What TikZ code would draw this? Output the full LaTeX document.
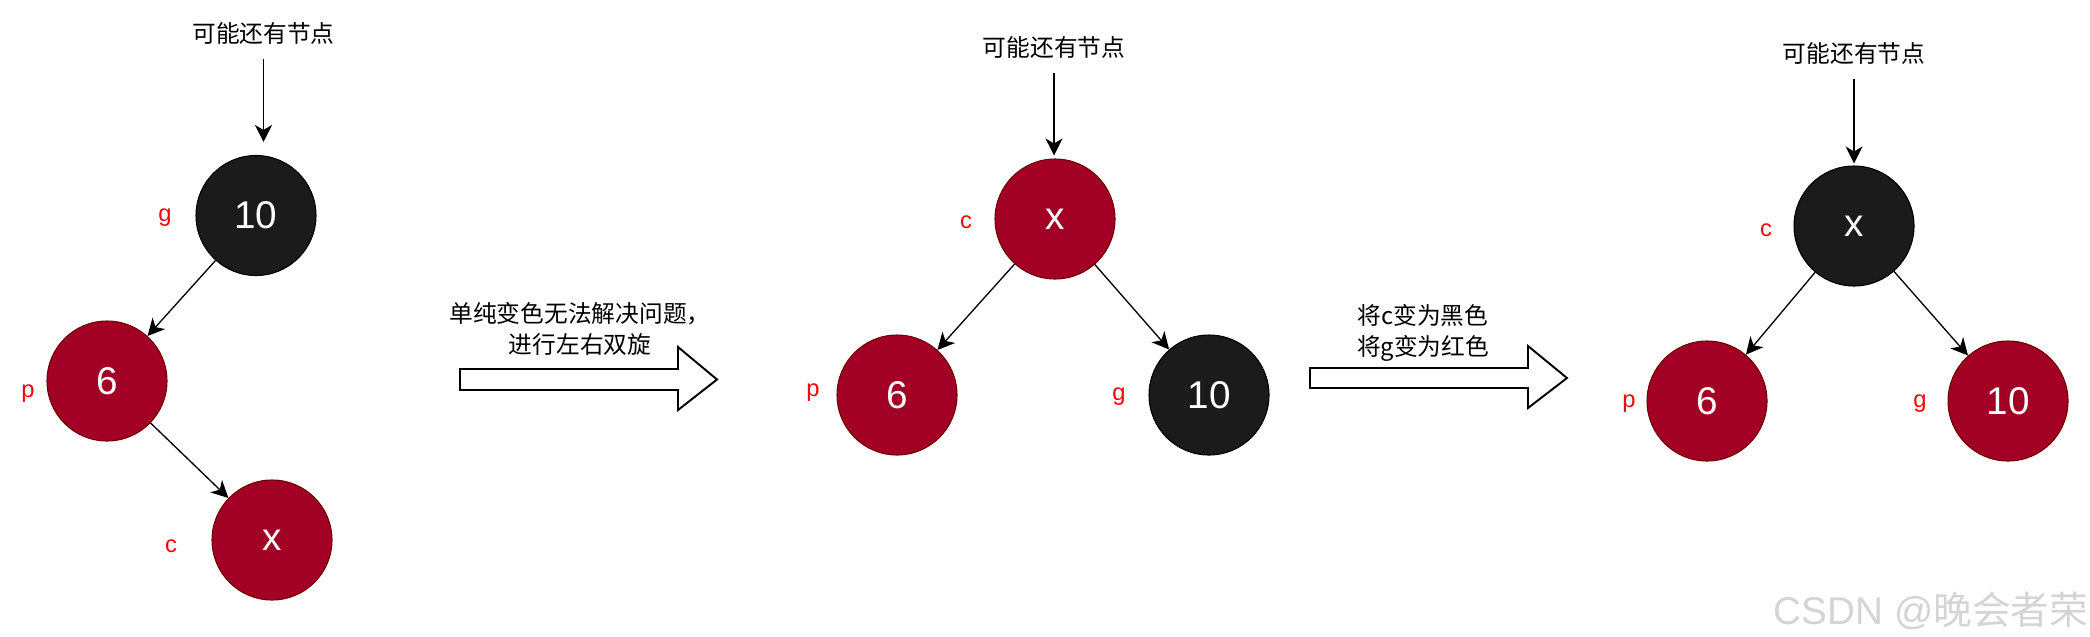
\documentclass[tikz,border=0pt]{standalone}
\usepackage{fontspec}
\setmainfont{Liberation Sans}
\newfontfamily\cjk{Noto Sans CJK SC}
\usetikzlibrary{arrows.meta,positioning}
\definecolor{rbred}{HTML}{A20025}
\definecolor{rbedge}{HTML}{6F0000}
\definecolor{rbblack}{HTML}{1B1B1B}
\definecolor{rolered}{HTML}{FF0000}
\definecolor{wmark}{HTML}{D4D4D4}

\begin{document}
\begin{tikzpicture}[
          every node/.style={font=\fontsize{13.5}{17}\selectfont},
          rnode/.style={circle,draw=rbedge,fill=rbred,text=white,line width=.6pt,
              minimum size=2.4cm,inner sep=0pt,font=\fontsize{22}{26}\selectfont},
          bnode/.style={rnode,draw=black,fill=rbblack},
          role/.style={text=rolered,inner sep=0pt},
          note/.style={font=\cjk\fontsize{13.5}{18}\selectfont,align=center,inner sep=1pt},
          edge/.style={-{Stealth[length=.34cm,width=.34cm,inset=.1cm]},line width=.75pt},
          fat/.style={draw,fill=white,line width=1.1pt,line join=miter}]
        \useasboundingbox (0,0) rectangle (41.8,-12.72);

        \node[note] (top1) at (5.27,-.66) {可能还有节点};
        \node[bnode] (g1) at (5.12,-4.31) {10};
        \node[rnode] (p1) at (2.14,-7.62) {6};
        \node[rnode] (c1) at (5.44,-10.8) {x};
        \node[role] at (3.30,-4.36) {g};
        \node[role] at (.56,-7.88) {p};
        \node[role] at (3.42,-10.92) {c};

        \draw[fat] (9.2,-7.38) -- (13.56,-7.38) -- (13.56,-6.94) -- (14.34,-7.59)
          -- (13.56,-8.2) -- (13.56,-7.8) -- (9.2,-7.8) -- cycle;
        \node[note] (say1) at (11.6,-6.58) {单纯变色无法解决问题，\\进行左右双旋};

        \node[note] (top2) at (21.08,-.94) {可能还有节点};
        \node[rnode] (x2) at (21.10,-4.38) {x};
        \node[rnode] (p2) at (17.94,-7.9) {6};
        \node[bnode] (g2) at (24.18,-7.9) {10};
        \node[role] at (19.32,-4.44) {c};
        \node[role] at (16.26,-7.86) {p};
        \node[role] at (22.38,-7.94) {g};

        \draw[fat] (26.2,-7.36) -- (30.56,-7.36) -- (30.56,-6.92) -- (31.34,-7.56)
          -- (30.56,-8.16) -- (30.56,-7.76) -- (26.2,-7.76) -- cycle;
        \node[note] (say2) at (28.46,-6.66) {将c变为黑色\\将g变为红色};

        \node[note] (top3) at (37.08,-1.06) {可能还有节点};
        \node[bnode] (x3) at (37.08,-4.52) {x};
        \node[rnode] (p3) at (34.14,-8.02) {6};
        \node[rnode] (g3) at (40.16,-8.02) {10};
        \node[role] at (35.32,-4.6) {c};
        \node[role] at (32.58,-8.08) {p};
        \node[role] at (38.4,-8.08) {g};

        \foreach \a/\b in {g1/p1,p1/c1,x2/p2,x2/g2,x3/p3,x3/g3}
          \draw[edge] (\a)--(\b);
        \foreach \t/\n/\s in {top1/g1/.26,top2/x2/.06,top3/x3/.04}
          \draw[edge,shorten <=.26cm,shorten >=\s cm] (\t)--(\t|-\n.north);

        \node[text=wmark,font=\cjk\fontsize{22}{26}\selectfont] (mark) at (38.62,-12.22)
          {{\rmfamily CSDN @}晚会者荣};
      \end{tikzpicture}
\end{document}
